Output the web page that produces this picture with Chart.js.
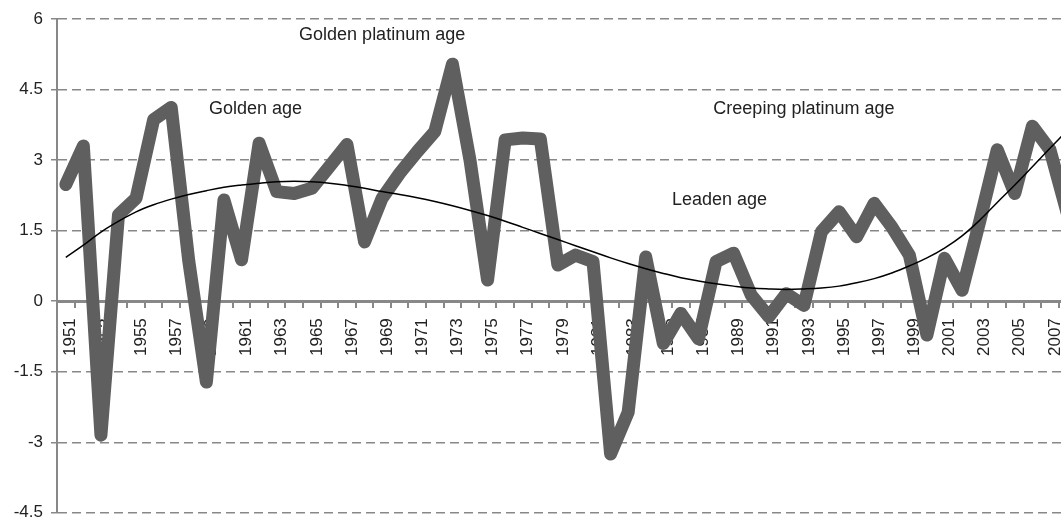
<!DOCTYPE html>
<html>
<head>
<meta charset="utf-8">
<script src="https://cdn.jsdelivr.net/npm/chart.js@4/dist/chart.umd.min.js"></script>
<style>
  html, body { margin: 0; padding: 0; background: #fff; overflow: hidden; }
  .wrap { width: 1061px; height: 520px; overflow: hidden; }
</style>
</head>
<body>
<div class="wrap"><canvas id="chart" width="1100" height="531"></canvas></div>
<script>
const years = [
  1951, 1952, 1953, 1954, 1955, 1956, 1957, 1958, 1959, 1960,
  1961, 1962, 1963, 1964, 1965, 1966, 1967, 1968, 1969, 1970,
  1971, 1972, 1973, 1974, 1975, 1976, 1977, 1978, 1979, 1980,
  1981, 1982, 1983, 1984, 1985, 1986, 1987, 1988, 1989, 1990,
  1991, 1992, 1993, 1994, 1995, 1996, 1997, 1998, 1999, 2000,
  2001, 2002, 2003, 2004, 2005, 2006, 2007, 2008
];

// yearly values (thick grey line)
const growth = [
  2.48, 3.30, -2.85, 1.84, 2.19, 3.86, 4.12, 0.85, -1.72, 2.15,
  0.88, 3.36, 2.33, 2.29, 2.40, 2.86, 3.33, 1.26, 2.19, 2.72,
  3.18, 3.61, 5.04, 3.00, 0.45, 3.43, 3.47, 3.45, 0.77, 0.98,
  0.84, -3.25, -2.36, 0.94, -0.90, -0.26, -0.80, 0.84, 1.02, 0.13,
  -0.33, 0.16, -0.09, 1.48, 1.90, 1.37, 2.08, 1.58, 0.98, -0.72,
  0.91, 0.23, 1.69, 3.22, 2.29, 3.72, 3.22, 1.85
];

// smooth trend (thin black line)
const trend = [
  0.93, 1.19, 1.47, 1.70, 1.90, 2.05, 2.17, 2.27, 2.35, 2.42,
  2.47, 2.51, 2.54, 2.55, 2.54, 2.51, 2.46, 2.40, 2.33, 2.27,
  2.20, 2.12, 2.03, 1.93, 1.82, 1.70, 1.57, 1.44, 1.31, 1.18,
  1.05, 0.92, 0.80, 0.69, 0.59, 0.50, 0.43, 0.37, 0.32, 0.28,
  0.26, 0.25, 0.26, 0.28, 0.32, 0.39, 0.48, 0.60, 0.75, 0.92,
  1.13, 1.39, 1.72, 2.10, 2.47, 2.86, 3.25, 3.64
];

const yTicks = [-4.5, -3, -1.5, 0, 1.5, 3, 4.5, 6];

// text labels placed in chart coordinates (year, value)
const noteTexts = ['Golden platinum age', 'Golden age', 'Creeping platinum age', 'Leaden age'];
const noteYears = [1969.0, 1961.8, 1993.0, 1988.2];
const noteValues = [5.66, 4.08, 4.08, 2.14];

const FONT = "'Liberation Sans', Arial, sans-serif";

const notesPlugin = {
  id: 'notes',
  afterDatasetsDraw(chart) {
    const { ctx, scales } = chart;
    ctx.save();
    ctx.font = '18px ' + FONT;
    ctx.fillStyle = '#222';
    ctx.textAlign = 'center';
    ctx.textBaseline = 'middle';
    noteTexts.forEach((t, i) => {
      const x = scales.x.getPixelForValue(noteYears[i] - years[0]);
      const y = scales.y.getPixelForValue(noteValues[i]);
      ctx.fillText(t, x, y);
    });
    ctx.restore();
  }
};

new Chart(document.getElementById('chart'), {
  type: 'line',
  data: {
    labels: years,
    datasets: [
      {
        label: 'Trend',
        data: trend,
        borderColor: '#000',
        borderWidth: 1.5,
        tension: 0.4,
        pointRadius: 0,
        fill: false,
        order: 0,
      },
      {
        label: 'Growth',
        data: growth,
        borderColor: '#5f5f5f',
        borderWidth: 13,
        borderJoinStyle: 'round',
        borderCapStyle: 'round',
        tension: 0,
        pointRadius: 0,
        fill: false,
        order: 1,
      },
    ],
  },
  options: {
    responsive: false,
    animation: false,
    layout: { padding: { top: 19, right: 8, bottom: 9, left: 0 } },
    plugins: {
      legend: { display: false },
      tooltip: { enabled: false },
    },
    scales: {
      x: {
        type: 'category',
        position: { y: 0 },
        offset: true,
        grid: {
          drawOnChartArea: false,
          drawTicks: true,
          tickLength: 5,
          color: '#888',
          lineWidth: 2,
          offset: true,
        },
        border: { display: true, color: '#888', width: 3 },
        ticks: {
          autoSkip: false,
          minRotation: 90,
          maxRotation: 90,
          padding: 12,
          labelOffset: 5,
          color: '#222',
          font: { family: FONT, size: 17 },
          callback: (v, i) => (i % 2 === 0 ? String(years[i]) : ''),
        },
        afterFit: (s) => { s.height = 0; },
      },
      y: {
        min: -4.5,
        max: 6,
        afterBuildTicks: (s) => { s.ticks = yTicks.map((v) => ({ value: v })); },
        grid: { color: '#888', lineWidth: 1.5, tickLength: 6, drawTicks: true },
        border: { display: true, color: '#888', width: 2, dash: [9, 5] },
        ticks: {
          padding: 8,
          color: '#222',
          font: { family: FONT, size: 17 },
          callback: (v) => String(v),
        },
        afterFit: (s) => { s.width = 57; },
      },
    },
  },
  plugins: [notesPlugin],
});
</script>
</body>
</html>
